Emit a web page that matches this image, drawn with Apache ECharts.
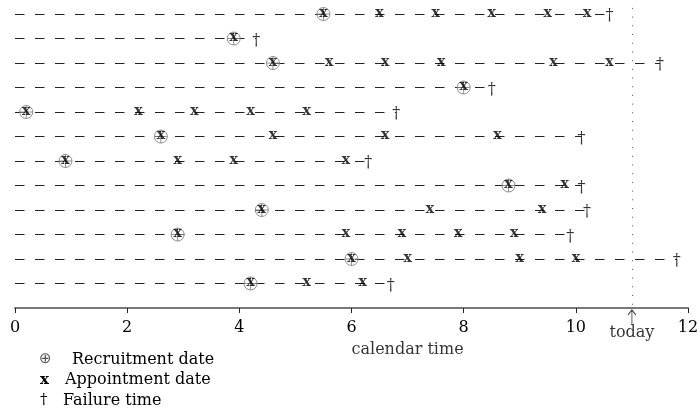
<!DOCTYPE html>
<html>
<head>
<meta charset="utf-8">
<script src="https://cdn.jsdelivr.net/npm/echarts@6/dist/echarts.min.js"></script>
<style>html,body{margin:0;padding:0;background:#fff}#c{width:699px;height:408px}</style>
</head>
<body>
<div id="c"></div>
<script>
// Subjects, top to bottom
const subjects = [1,2,3,4,5,6,7,8,9,10,11,12];
const recruitment = [5.5, 3.9, 4.6, 8.0, 0.2, 2.6, 0.9, 8.8, 4.4, 2.9, 6.0, 4.2];
const appointments = [
  [6.5, 7.5, 8.5, 9.5, 10.2],
  [],
  [5.6, 6.6, 7.6, 9.6, 10.6],
  [],
  [2.2, 3.2, 4.2, 5.2],
  [4.6, 6.6, 8.6],
  [2.9, 3.9, 5.9],
  [9.8],
  [7.4, 9.4],
  [5.9, 6.9, 7.9, 8.9],
  [7.0, 9.0, 10.0],
  [5.2, 6.2]
];
const failure = [10.6, 4.3, 11.5, 8.5, 6.8, 10.1, 6.3, 10.1, 10.2, 9.9, 11.8, 6.7];
const today = 11;
const xTicks = [0, 2, 4, 6, 8, 10, 12];
const axisTitle = 'calendar time';
const axisTitleAt = 7;
const todayLabel = 'today';
const legendItems = [
  {sym: '⊕', text: 'Recruitment date'},
  {sym: 'x', text: 'Appointment date'},
  {sym: '†', text: 'Failure time'}
];

const SERIF = 'DejaVu Serif';
const axisRow = subjects.length + 1;

const dashData = subjects.map((s, i) => ({coords: [[0, s], [failure[i], s]]}));
const recruitData = subjects.map((s, i) => [recruitment[i], s]);
const xMarkData = [];
subjects.forEach((s, i) => {
  xMarkData.push([recruitment[i], s]);
  appointments[i].forEach(a => xMarkData.push([a, s]));
});
const daggerData = subjects.map((s, i) => [failure[i], s]);

function labelOnly(data, text, style, offset) {
  return {
    type: 'scatter', data: data, symbol: 'circle', symbolSize: 1, clip: false,
    itemStyle: {color: 'rgba(0,0,0,0)'}, silent: true, z: 5,
    label: Object.assign({show: true, position: 'inside', formatter: text, offset: offset || [0, 0],
      fontFamily: SERIF, color: '#000'}, style)
  };
}

const chart = echarts.init(document.getElementById('c'));
chart.setOption({
  animation: false,
  grid: {left: 15, right: 11, top: 1.78, bottom: 100, outerBoundsMode: 'none'},
  xAxis: {
    type: 'value', min: xTicks[0], max: xTicks[xTicks.length - 1], interval: 2,
    splitLine: {show: false},
    axisLine: {lineStyle: {color: '#7a7a7a', width: 2}},
    axisTick: {length: 5, lineStyle: {color: '#222', width: 1}},
    axisLabel: {fontFamily: SERIF, fontSize: 16, color: '#000', margin: 12}
  },
  yAxis: {type: 'value', min: 0.5, max: axisRow, inverse: true, show: false},
  series: [
    {
      type: 'lines', coordinateSystem: 'cartesian2d', polyline: false, clip: false, silent: true,
      data: dashData,
      lineStyle: {color: '#222', width: 1, type: [9.5, 10.5], opacity: 1}, z: 1
    },
    {
      type: 'lines', coordinateSystem: 'cartesian2d', clip: false, silent: true,
      data: [{coords: [[today, 0.75], [today, axisRow]]}],
      lineStyle: {color: '#555', width: 1, type: [1, 7.7], opacity: 1}, z: 1
    },
    {
      type: 'scatter', data: recruitData, clip: false, silent: true, z: 3,
      symbol: 'path://M12,0A12,12,0,1,1,-12,0A12,12,0,1,1,12,0ZM0,-12L0,12M-12,0L12,0',
      symbolSize: 13,
      itemStyle: {color: 'rgba(255,255,255,0.3)', borderColor: '#777', borderWidth: 1}
    },
    {
      // "today" arrow
      type: 'scatter', data: [[today, axisRow]], clip: false, silent: true, z: 4,
      symbol: 'path://M0,0L0,14M-4,5L0,0L4,5',
      symbolSize: [8, 14], symbolOffset: [0, 9],
      itemStyle: {color: 'rgba(0,0,0,0)', borderColor: '#111', borderWidth: 1.1}
    },
    labelOnly(xMarkData, 'x', {fontSize: 14, fontWeight: 'bold'}, [0, -1]),
    labelOnly(daggerData, '†', {fontSize: 16}, [0, 2]),
    labelOnly([[today, axisRow]], todayLabel, {fontSize: 16}, [0, 25]),
    labelOnly([[axisTitleAt, axisRow]], axisTitle, {fontSize: 16}, [0, 42])
  ],
  graphic: legendItems.flatMap((it, i) => [
    {type: 'text', left: it.sym === '⊕' ? 39 : 40, top: 352 + i * 20.3,
      style: {text: it.sym, fontFamily: it.sym === '⊕' ? 'DejaVu Sans' : SERIF, fontSize: 15,
        fontWeight: it.sym === 'x' ? 'bold' : 'normal', fill: it.sym === '⊕' ? '#555' : '#000'}},
    {type: 'text', left: i === 0 ? 72 : (i === 1 ? 65 : 63), top: 352 + i * 20.3,
      style: {text: it.text, fontFamily: SERIF, fontSize: 16, fill: '#000'}}
  ])
});
</script>
</body>
</html>
